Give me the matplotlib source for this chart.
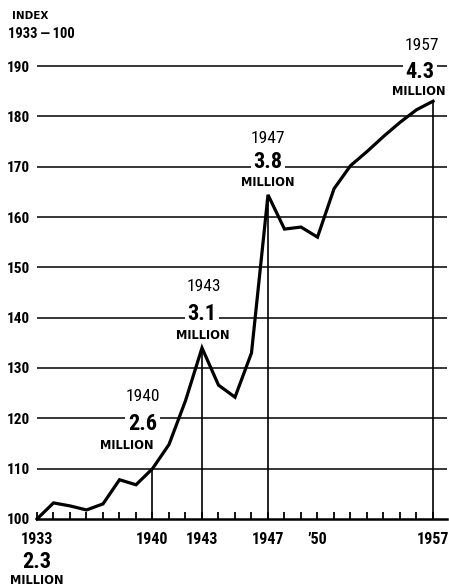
import matplotlib
matplotlib.use("Agg")
import matplotlib.pyplot as plt

years = list(range(1933, 1958))
index_values = [100, 103.2, 102.6, 101.8, 103.0, 107.8, 106.8, 110.0, 114.8, 123.5,
                134.0, 126.6, 124.2, 133.0, 164.4, 157.6, 158.0, 156.0, 165.6, 170.2,
                173.0, 176.0, 178.8, 181.3, 183.0]
milestone_years = [1933, 1940, 1943, 1947, 1957]
milestone_millions = ["2.3", "2.6", "3.1", "3.8", "4.3"]
y_ticks = [100, 110, 120, 130, 140, 150, 160, 170, 180, 190]
x_tick_labels = {1933: "1933", 1940: "1940", 1943: "1943", 1947: "1947", 1950: "\u201950", 1957: "1957"}

NARROW = ["Roboto Condensed", "DejaVu Sans"]
WIDE = ["DejaVu Sans"]

W, H = 449, 586
fig = plt.figure(figsize=(W / 100, H / 100), dpi=100)
x0, x1 = 37, 447
yb, yt = 519, 30
px_per_year = 16.5
px_per_unit = (519 - 66) / 90.0
ax = fig.add_axes([x0 / W, (H - yb) / H, (x1 - x0) / W, (yb - yt) / H])
ax.set_xlim(1933, 1933 + (x1 - x0) / px_per_year)
ax.set_ylim(100, 100 + (yb - yt) / px_per_unit)
ax.set_facecolor("white")
for s in ["top", "right", "left"]:
    ax.spines[s].set_visible(False)
ax.spines["bottom"].set_linewidth(1.8)

for v in y_ticks[1:]:
    ax.axhline(v, color="black", lw=1.1, zorder=1)

vals = dict(zip(years, index_values))
ax.vlines(milestone_years[1:], 100, [vals[y] for y in milestone_years[1:]],
          color="black", lw=1.2, zorder=2)

ax.plot(years, index_values, color="black", lw=2.3, zorder=3,
        solid_joinstyle="miter", clip_on=False)

ax.set_xticks(years)
ax.set_xticklabels([x_tick_labels.get(y, "") for y in years], fontfamily=NARROW,
                   fontsize=11.5, fontweight="bold")
ax.tick_params(axis="x", direction="in", length=5, width=1.3, pad=9)
ax.set_yticks(y_ticks)
ax.set_yticklabels([str(v) for v in y_ticks], fontfamily=NARROW, fontsize=11, fontweight="bold")
ax.tick_params(axis="y", length=0, pad=5)

fig.text(12 / W, 1 - 16 / H, "INDEX", fontfamily=WIDE, fontsize=7.5, fontweight="bold",
         va="center", ha="left")
fig.text(8 / W, 1 - 34 / H, "1933\u2009\u2014\u2009100", fontfamily=NARROW, fontsize=10.5,
         fontweight="bold", va="center", ha="left")

offsets = {
    1933: (None, (0, -43), (0, -61)),
    1940: ((-10, 72), (-10, 45), (-26, 23)),
    1943: ((2, 61), (0, 34), (1, 12)),
    1947: ((0, 56), (0, 33), (0, 12)),
    1957: ((-11, 56), (-13, 29), (-14, 10)),
}
k = 72 / 100
for yr, mil in zip(milestone_years, milestone_millions):
    oy, on, om = offsets[yr]
    xy = (yr, vals[yr])
    if oy is not None:
        ax.annotate(str(yr), xy, xytext=(oy[0] * k, oy[1] * k), textcoords="offset points",
                    ha="center", va="center", fontfamily=NARROW, fontsize=12.5,
                    annotation_clip=False, zorder=5)
    ax.annotate(mil, xy, xytext=(on[0] * k, on[1] * k), textcoords="offset points",
                ha="center", va="center", fontfamily=NARROW, fontsize=16, fontweight="bold",
                annotation_clip=False, zorder=5,
                bbox=dict(boxstyle="square,pad=0.12", fc="white", ec="none"))
    ax.annotate("MILLION", xy, xytext=(om[0] * k, om[1] * k), textcoords="offset points",
                ha="center", va="center", fontfamily=WIDE, fontsize=8.3, fontweight="bold",
                annotation_clip=False, zorder=5)

fig.savefig("out.png", dpi=100, facecolor="white")
